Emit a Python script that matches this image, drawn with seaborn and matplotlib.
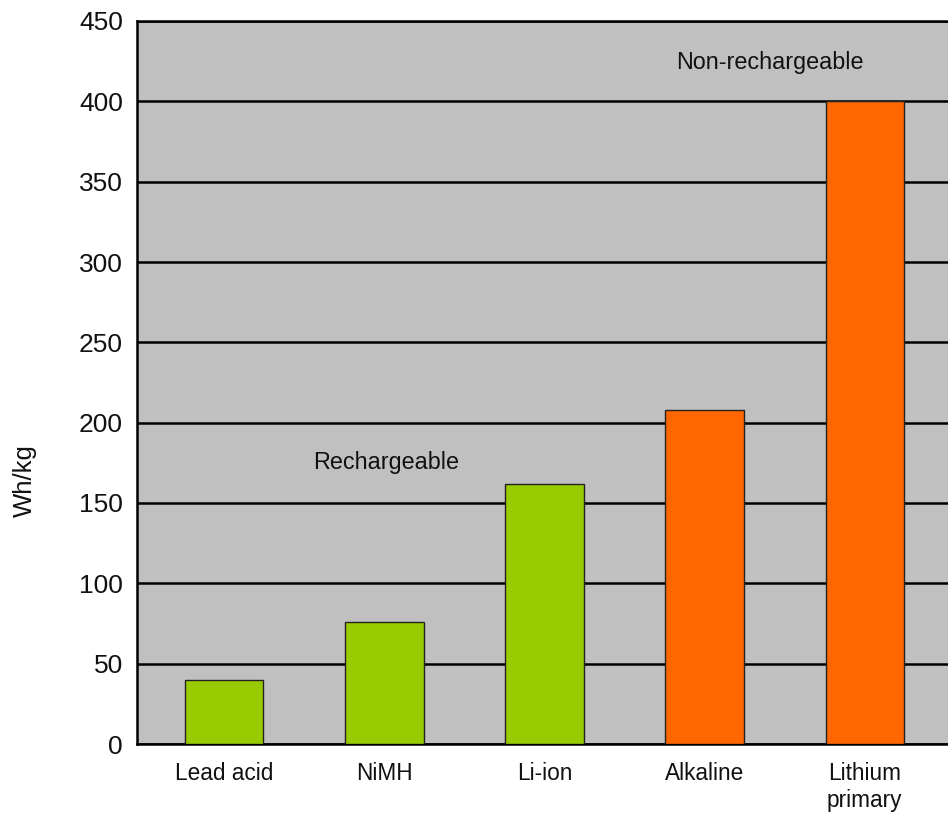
import matplotlib
matplotlib.use("Agg")
import matplotlib.pyplot as plt
import seaborn as sns
import pandas as pd

# Specific energy by battery chemistry
chemistries = ["Lead acid", "NiMH", "Li-ion", "Alkaline", "Lithium\nprimary"]
energy_wh_per_kg = [40, 76, 162, 208, 400]
battery_type = ["Rechargeable", "Rechargeable", "Rechargeable",
                "Non-rechargeable", "Non-rechargeable"]
y_ticks = [0, 50, 100, 150, 200, 250, 300, 350, 400, 450]

df = pd.DataFrame({"chemistry": chemistries,
                   "energy": energy_wh_per_kg,
                   "type": battery_type})

sns.set_theme(style="white")
plt.rcParams["font.family"] = ["Liberation Sans", "DejaVu Sans"]

fig = plt.figure(figsize=(9.48, 8.14), dpi=100)
ax = fig.add_axes([137 / 948, 70 / 814, 1 - 137 / 948, 723 / 814])
ax.set_facecolor("#C0C0C0")

sns.barplot(data=df, x="chemistry", y="energy", hue="type",
            palette={"Rechargeable": "#99CC00", "Non-rechargeable": "#FF6600"},
            saturation=1, dodge=False, width=0.49, legend=False, ax=ax,
            edgecolor="#222222", linewidth=1.0, zorder=3)

ax.set_ylim(0, 450)
ax.set_xlim(-0.545, 4.52)
ax.set_yticks(y_ticks)
ax.yaxis.grid(True, color="black", linewidth=1.8, zorder=0)
ax.set_axisbelow(True)

for side in ["left", "top", "bottom"]:
    ax.spines[side].set_visible(True)
    ax.spines[side].set_color("black")
    ax.spines[side].set_linewidth(1.8)
ax.spines["right"].set_visible(False)

ax.tick_params(axis="y", length=0, labelsize=19, pad=10, labelcolor="#111111")
ax.tick_params(axis="x", length=0, labelsize=16.3, pad=13, labelcolor="#111111")

ax.set_xlabel("")
ax.set_ylabel("Wh/kg", fontsize=18.5, color="#111111")
ax.yaxis.set_label_coords(-0.123, 0.365)

ax.text(1.01, 175, "Rechargeable", fontsize=16.8, ha="center", va="center",
        color="#111111", zorder=4)
ax.text(3.41, 424, "Non-rechargeable", fontsize=16.8, ha="center", va="center",
        color="#111111", zorder=4)

fig.savefig("out.png", dpi=100, facecolor="white")
